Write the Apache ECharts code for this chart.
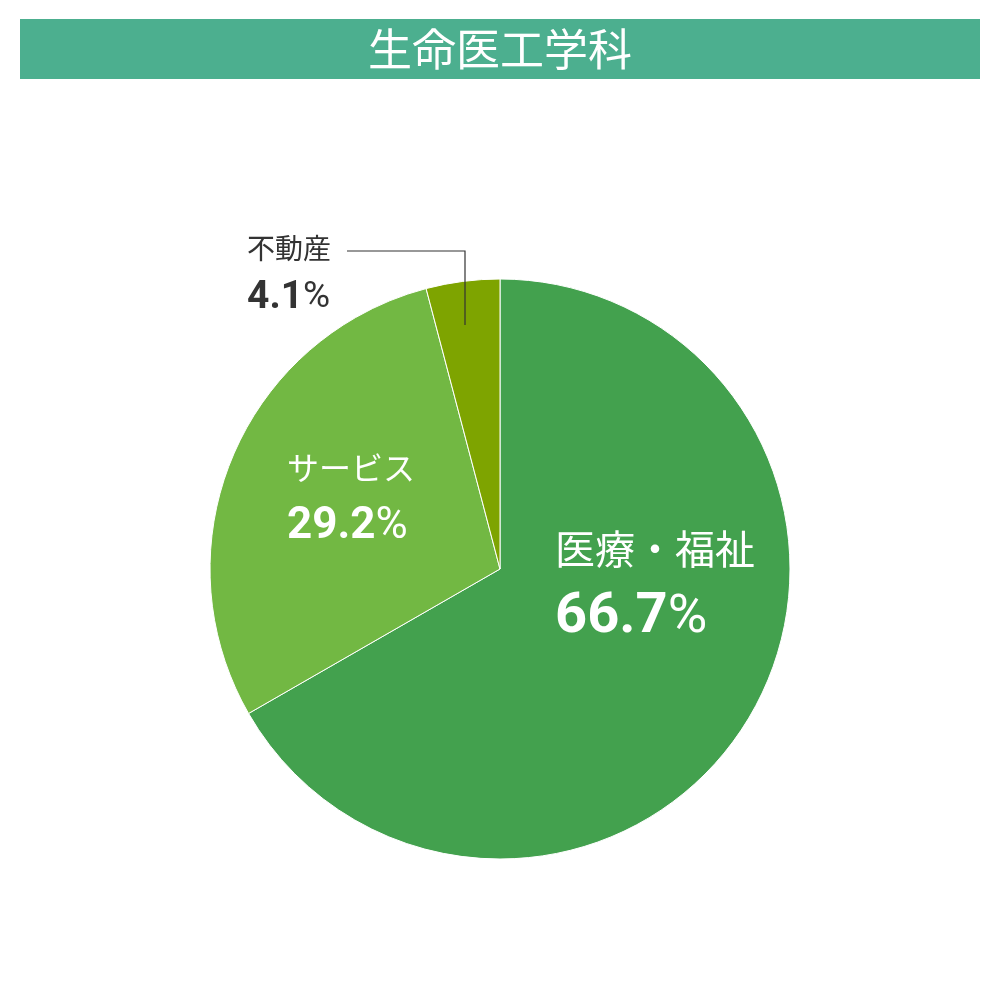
<!DOCTYPE html>
<html><head><meta charset="utf-8">
<script src="https://cdn.jsdelivr.net/npm/echarts@6/dist/echarts.min.js"></script>
<style>html,body{margin:0;padding:0;background:#fff}#c{width:1000px;height:1000px}</style>
</head><body><div id="c"></div>
<script>
const titleText = '生命医工学科';
const categories = ['医療・福祉', 'サービス', '不動産'];
const values = [66.7, 29.2, 4.1];
const colors = ['#43a14e', '#72b843', '#7ea400'];

const chart = echarts.init(document.getElementById('c'));
const labelStyles = [
  {name: {fontSize: 40, color: '#fff', lineHeight: 64}, val: {fontSize: 56, fontWeight: 700, color: '#fff', lineHeight: 64}, pct: {fontSize: 54, color: '#fff', lineHeight: 64}, x: 555, y: 586},
  {name: {fontSize: 32, color: '#fff', lineHeight: 55}, val: {fontSize: 44, fontWeight: 700, color: '#fff', lineHeight: 55}, pct: {fontSize: 44, color: '#fff', lineHeight: 55}, x: 287, y: 499},
  {name: {fontSize: 28, color: '#333', lineHeight: 46}, val: {fontSize: 39, fontWeight: 700, color: '#333', lineHeight: 46}, pct: {fontSize: 37, color: '#333', lineHeight: 46}, x: 247, y: 275}
];
const data = categories.map((c, i) => ({
  name: c, value: values[i],
  itemStyle: {color: colors[i]},
  label: {
    rich: {
      n: labelStyles[i].name,
      v: labelStyles[i].val,
      p: labelStyles[i].pct
    }
  }
}));

chart.setOption({
  animation: false,
  graphic: [
    {type: 'rect', shape: {x: 20, y: 19, width: 960, height: 60}, style: {fill: '#4caf8f'}},
    {type: 'text', x: 500, y: 49, style: {text: titleText, fill: '#fff', fontSize: 44, fontFamily: '"Noto Sans CJK JP", serif', fontWeight: 400, align: 'center', verticalAlign: 'middle'}},
    {type: 'polyline', shape: {points: [[465, 325], [465, 251], [347, 251]]}, style: {stroke: '#333', lineWidth: 1.2, fill: null}, z: 10}
  ],
  series: [{
    type: 'pie',
    center: [500, 569],
    radius: [0, 290],
    startAngle: 90,
    clockwise: true,
    data: data,
    itemStyle: {borderColor: '#fff', borderWidth: 1},
    label: {
      show: true,
      position: 'inside',
      fontFamily: 'Roboto, "Noto Sans CJK JP", sans-serif',
      formatter: p => '{n|' + p.name + '}\n{v|' + p.value.toFixed(1) + '}{p|%}',
      align: 'left'
    },
    labelLine: {show: false},
    labelLayout: p => ({x: labelStyles[p.dataIndex].x, y: labelStyles[p.dataIndex].y, align: 'left', verticalAlign: 'middle'}),
    emphasis: {disabled: true}
  }]
});
</script></body></html>
